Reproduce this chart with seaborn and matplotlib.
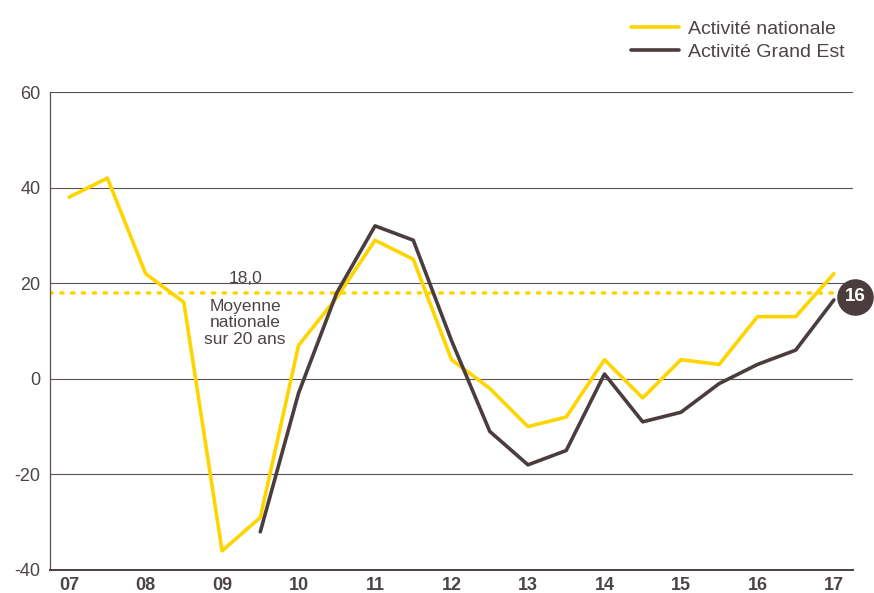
import matplotlib
matplotlib.use('Agg')
import matplotlib.pyplot as plt
import seaborn as sns
import numpy as np
import pandas as pd

# half-year points from 07 to 17
periods = ['07', '07b', '08', '08b', '09', '09b', '10', '10b', '11', '11b', '12',
           '12b', '13', '13b', '14', '14b', '15', '15b', '16', '16b', '17']
year_labels = ['07', '08', '09', '10', '11', '12', '13', '14', '15', '16', '17']
nationale = [38, 42, 22, 16, -36, -29, 7, 17, 29, 25, 4,
             -2, -10, -8, 4, -4, 4, 3, 13, 13, 22]
grand_est = [None, None, None, None, None, -32, -3, 18, 32, 29, 8,
             -11, -18, -15, 1, -9, -7, -1, 3, 6, 16.5]
moyenne = 18.0
dernier_ge = '16'

yellow = '#FFD500'
brown = '#4B3D3E'
textc = '#4D4446'

df = pd.DataFrame({'x': np.arange(len(periods)),
                   'Activité nationale': nationale,
                   'Activité Grand Est': pd.array(grand_est, dtype='Float64')})

sns.set_style('white')
plt.rcParams['font.family'] = ['Liberation Sans', 'DejaVu Sans']

fig = plt.figure(figsize=(8.74, 5.93), dpi=100)
ax = fig.add_axes([0.0572, 0.0388, 0.9188, 0.806])

for y in [-20, 0, 20, 40, 60]:
    ax.axhline(y, color='#5a5050', lw=0.8, zorder=1)

ax.axhline(moyenne, color=yellow, lw=2.6, linestyle=(0, (0.6, 2.4)),
           dash_capstyle='round', xmax=0.985, zorder=2)

sns.lineplot(data=df, x='x', y='Activité nationale', color=yellow, lw=2.6,
             label='Activité nationale', ax=ax, zorder=3)
ge = df.dropna(subset=['Activité Grand Est'])
sns.lineplot(x=ge['x'].values, y=ge['Activité Grand Est'].astype(float).values,
             color=brown, lw=2.6, label='Activité Grand Est', ax=ax, zorder=4)

ax.set_xlim(-0.5, len(periods) - 0.5)
ax.set_ylim(-40, 60)
ax.set_yticks([-40, -20, 0, 20, 40, 60])
ax.set_yticklabels(['-40', '-20', '0', '20', '40', '60'], fontsize=13, color=textc)
ax.set_xticks(np.arange(0, len(periods), 2))
ax.set_xticklabels(year_labels, fontsize=13, fontweight='bold', color=textc)
ax.set_xticks(np.arange(-0.5, len(periods), 1), minor=True)
ax.tick_params(axis='x', which='major', length=0, pad=5)
ax.tick_params(axis='x', which='minor', length=4, width=1, color=brown, direction='in')
ax.tick_params(axis='y', length=0, pad=7)
ax.set_xlabel('')
ax.set_ylabel('')

for s in ['top', 'right']:
    ax.spines[s].set_visible(False)
ax.spines['left'].set_color('#5a5050')
ax.spines['left'].set_linewidth(0.9)
ax.spines['bottom'].set_color(brown)
ax.spines['bottom'].set_linewidth(1.4)

ax.text(4.6, moyenne + 1.4, '18,0', ha='center', va='bottom', fontsize=12.5, color=textc)
ax.text(4.6, moyenne - 1.2, 'Moyenne\nnationale\nsur 20 ans', ha='center', va='top',
        fontsize=12.5, color=textc, linespacing=1.15)

ax.scatter([20.55], [moyenne - 0.8], s=640, color=brown, clip_on=False, zorder=6)
ax.text(20.55, moyenne - 0.8, dernier_ge, ha='center', va='center', color='white',
        fontsize=13.5, fontweight='bold', zorder=7, clip_on=False)

leg = ax.legend(loc='upper right', bbox_to_anchor=(862 / 874, 1 - 3 / 593),
                bbox_transform=fig.transFigure, frameon=False,
                prop={'size': 14}, handlelength=2.5,
                handletextpad=0.45, labelspacing=0.25)
for t in leg.get_texts():
    t.set_color(textc)
for h in leg.get_lines():
    h.set_linewidth(2.6)

plt.savefig('out.png', dpi=100)
